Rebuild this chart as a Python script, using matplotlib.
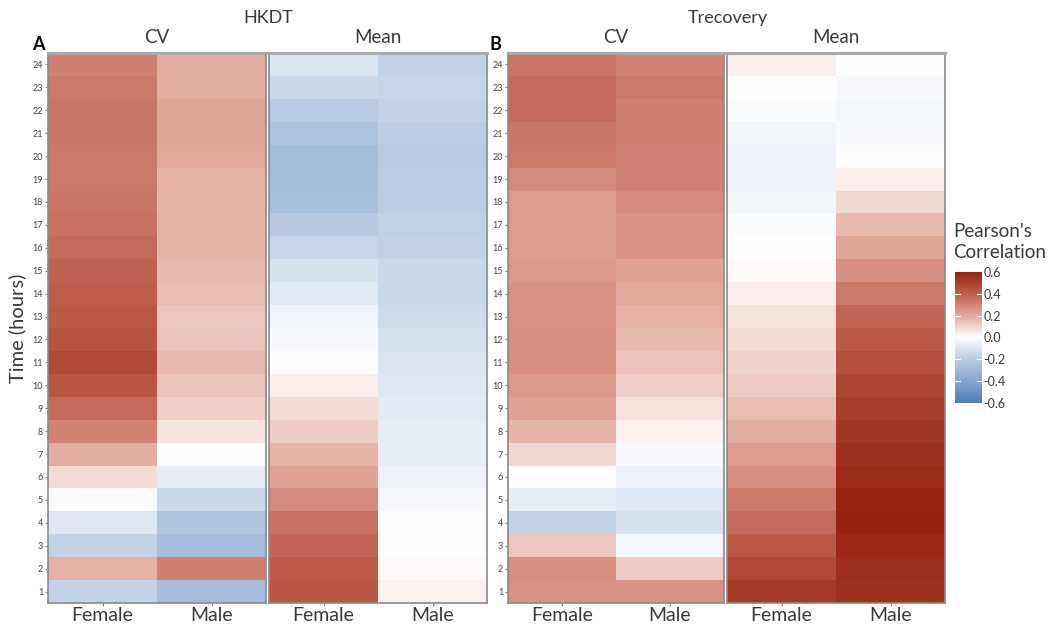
"""
Heatmaps of Pearson's correlation by hour for HKDT and Trecovery
(CV and Mean, split by sex).
"""

import numpy as np
import matplotlib
matplotlib.use('Agg')
import matplotlib.pyplot as plt
from matplotlib.colors import LinearSegmentedColormap, Normalize

plt.rcParams['font.family'] = ['Lato', 'DejaVu Sans']

# data: hours 1..24
hours = list(range(1, 25))
sexes = ['Female', 'Male']

hkdt_cv_female = [-0.17, 0.18, -0.17, -0.09, -0.01, 0.08, 0.19, 0.30, 0.37, 0.43,
                  0.47, 0.44, 0.42, 0.40, 0.39, 0.37, 0.35, 0.34, 0.33, 0.33,
                  0.34, 0.34, 0.33, 0.31]
hkdt_cv_male = [-0.28, 0.31, -0.28, -0.23, -0.15, -0.07, 0.00, 0.06, 0.11, 0.14,
                0.16, 0.14, 0.13, 0.15, 0.16, 0.17, 0.17, 0.17, 0.18, 0.20,
                0.21, 0.21, 0.19, 0.19]
hkdt_mean_female = [0.43, 0.41, 0.38, 0.35, 0.28, 0.22, 0.17, 0.12, 0.08, 0.04,
                    0.00, -0.02, -0.04, -0.08, -0.11, -0.16, -0.21, -0.26, -0.27, -0.28,
                    -0.24, -0.20, -0.15, -0.10]
hkdt_mean_male = [0.03, 0.01, 0.00, 0.00, -0.02, -0.05, -0.07, -0.07, -0.08, -0.09,
                  -0.10, -0.11, -0.14, -0.15, -0.15, -0.17, -0.18, -0.19, -0.19, -0.20,
                  -0.19, -0.17, -0.16, -0.17]

trec_cv_female = [0.26, 0.27, 0.13, -0.17, -0.07, 0.00, 0.09, 0.17, 0.22, 0.24,
                  0.27, 0.27, 0.26, 0.26, 0.24, 0.23, 0.23, 0.23, 0.28, 0.33,
                  0.34, 0.37, 0.37, 0.34]
trec_cv_male = [0.26, 0.12, -0.03, -0.11, -0.09, -0.05, -0.02, 0.03, 0.07, 0.11,
                0.14, 0.16, 0.18, 0.20, 0.22, 0.26, 0.26, 0.28, 0.30, 0.30,
                0.31, 0.31, 0.33, 0.30]
trec_mean_female = [0.52, 0.47, 0.42, 0.37, 0.32, 0.27, 0.23, 0.19, 0.15, 0.12,
                    0.10, 0.08, 0.07, 0.04, 0.01, 0.00, -0.01, -0.04, -0.05, -0.05,
                    -0.04, -0.01, 0.00, 0.04]
trec_mean_male = [0.55, 0.56, 0.58, 0.60, 0.59, 0.57, 0.55, 0.53, 0.51, 0.48,
                  0.45, 0.42, 0.38, 0.33, 0.27, 0.21, 0.16, 0.09, 0.04, -0.005,
                  -0.02, -0.03, -0.02, 0.00]

cbar_ticks = [-0.6, -0.4, -0.2, 0.0, 0.2, 0.4, 0.6]

# colour scale (blue - white - red)
cmap = LinearSegmentedColormap.from_list('pearson', [
    (0.0, '#4A7FB5'), (1/6, '#86A6CE'), (2/6, '#B9CBE2'), (0.5, '#FFFFFF'),
    (4/6, '#E2A99C'), (5/6, '#BF5F4E'), (1.0, '#96220F')])
norm = Normalize(vmin=-0.6, vmax=0.6)

W, H = 1059, 627
fig = plt.figure(figsize=(W / 100, H / 100), dpi=100)


def px_axes(x0, y0, x1, y1):
    return fig.add_axes([x0 / W, 1 - y1 / H, (x1 - x0) / W, (y1 - y0) / H])


def draw_facet(ax, female, male, show_y):
    vals = np.column_stack([female, male])
    ax.pcolormesh(np.arange(len(sexes) + 1), np.arange(len(hours) + 1) + 0.5,
                  vals, cmap=cmap, norm=norm, shading='flat')
    ax.set_xlim(0, 2)
    ax.set_ylim(0.5, 24.5)
    ax.set_xticks([0.5, 1.5])
    ax.set_xticklabels(sexes, fontsize=14, color='#3a3a3a')
    ax.tick_params(axis='x', length=2, color='#888888', pad=1)
    if show_y:
        ax.set_yticks(hours)
        ax.set_yticklabels([str(h) for h in hours], fontsize=6.5, color='#444444')
        ax.tick_params(axis='y', length=2, color='#888888', pad=1.5)
    else:
        ax.set_yticks([])
    for s in ax.spines.values():
        s.set_color('#8a8a8a')
        s.set_linewidth(1.2)
    ax.spines['top'].set_color('#aaaaaa')
    ax.spines['top'].set_linewidth(2.2)


facets = [
    ((48, 53, 266, 603), hkdt_cv_female, hkdt_cv_male, True, 'CV'),
    ((269, 53, 487, 603), hkdt_mean_female, hkdt_mean_male, False, 'Mean'),
    ((508, 53, 724, 603), trec_cv_female, trec_cv_male, True, 'CV'),
    ((727, 53, 945, 603), trec_mean_female, trec_mean_male, False, 'Mean'),
]
for box, f, m, show_y, strip in facets:
    ax = px_axes(*box)
    draw_facet(ax, f, m, show_y)
    ax.text(0.5, 1.012, strip, transform=ax.transAxes, ha='center', va='bottom',
            fontsize=13.5, color='#3a3a3a')

# panel titles and letters
fig.text(268 / W, 1 - 18 / H, 'HKDT', ha='center', va='center', fontsize=13, color='#3a3a3a')
fig.text(728 / W, 1 - 18 / H, 'Trecovery', ha='center', va='center', fontsize=13, color='#3a3a3a')
fig.text(38 / W, 1 - 44 / H, 'A', ha='center', va='center', fontsize=13, fontweight='bold')
fig.text(495 / W, 1 - 44 / H, 'B', ha='center', va='center', fontsize=13, fontweight='bold')
fig.text(17 / W, 1 - 328 / H, 'Time (hours)', rotation=90, ha='center', va='center',
         fontsize=14.5, color='#3a3a3a')

# colour bar
cax = px_axes(955, 272, 982, 403)
sm = plt.cm.ScalarMappable(cmap=cmap, norm=norm)
cb = fig.colorbar(sm, cax=cax, ticks=cbar_ticks)
cb.outline.set_visible(False)
cb.ax.tick_params(length=0, labelsize=9, colors='#3a3a3a', pad=1)
cb.ax.set_yticklabels([f'{t:.1f}' for t in cbar_ticks])
for t in cbar_ticks[1:-1]:
    cb.ax.axhline(t, xmin=0, xmax=0.2, color='white', lw=0.8)
    cb.ax.axhline(t, xmin=0.8, xmax=1, color='white', lw=0.8)
fig.text(953 / W, 1 - 242 / H, "Pearson's\nCorrelation", ha='left', va='center',
         fontsize=13.5, color='#3a3a3a', linespacing=1.3)

fig.savefig('out.png', dpi=100)
